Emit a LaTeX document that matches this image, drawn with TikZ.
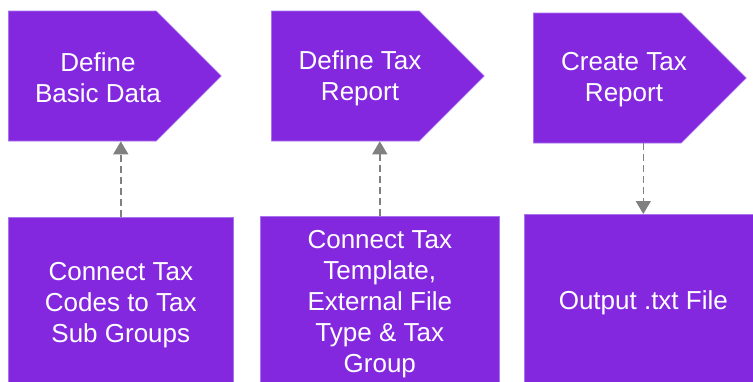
\documentclass[tikz,border=0pt]{standalone}
\usepackage{fontspec}
\setmainfont{Liberation Sans}
\usetikzlibrary{shapes.symbols,arrows.meta}
\definecolor{stagefill}{RGB}{132,40,224}
\definecolor{stageline}{RGB}{168,115,236}
\definecolor{linkgray}{RGB}{128,128,128}

\begin{document}
\begin{tikzpicture}[
    x=1pt, y=-1pt,
    every node/.append style={font=\fontsize{26}{31}\selectfont, text=white, align=center},
    stage/.style={signal, signal to=east, fill=stagefill, draw=stageline, line width=0.6pt,
        minimum width=213pt, minimum height=130pt, inner sep=0pt, anchor=west},
    task/.style={rectangle, fill=stagefill, draw=stageline, line width=0.6pt,
        minimum height=176pt, inner sep=0pt, anchor=north west},
    link/.style={draw=linkgray, line width=1.4pt, dash pattern=on 7pt off 4pt,
        -{Triangle[width=15pt,length=13pt]}}
]
    \useasboundingbox (0,0) rectangle (753,381);
    \clip (0,0) rectangle (753,381);
    % top row
    \node[stage] (basic) at (8,76) {};
    \node[stage] (report) at (271,76) {};
    \node[stage] (create) at (533,78) {};
    \node (basictext) at ([xshift=90pt,yshift=-2pt]basic.west) {Define\\Basic Data};
    \node (reporttext) at ([xshift=89pt,yshift=-2pt]report.west) {Define Tax\\Report};
    \node (createtext) at ([xshift=91pt,yshift=-2pt]create.west) {Create Tax\\Report};
    % bottom row
    \node[task, minimum width=225pt] (codes) at (8,217) {Connect Tax\\Codes to Tax\\Sub Groups};
    \node[task, minimum width=239pt] (template) at (260,216)
        {Connect Tax\\Template,\\External File\\Type \& Tax\\Group};
    \node[task, minimum width=238pt] (output) at (524,214) {Output .txt File};
    % links
    \draw[link] (codes.north) -- (codes.north |- basic.south);
    \draw[link] (template.north) -- (template.north |- report.south);
    \draw[link] (output.north |- create.south) -- (output.north);
\end{tikzpicture}
\end{document}
